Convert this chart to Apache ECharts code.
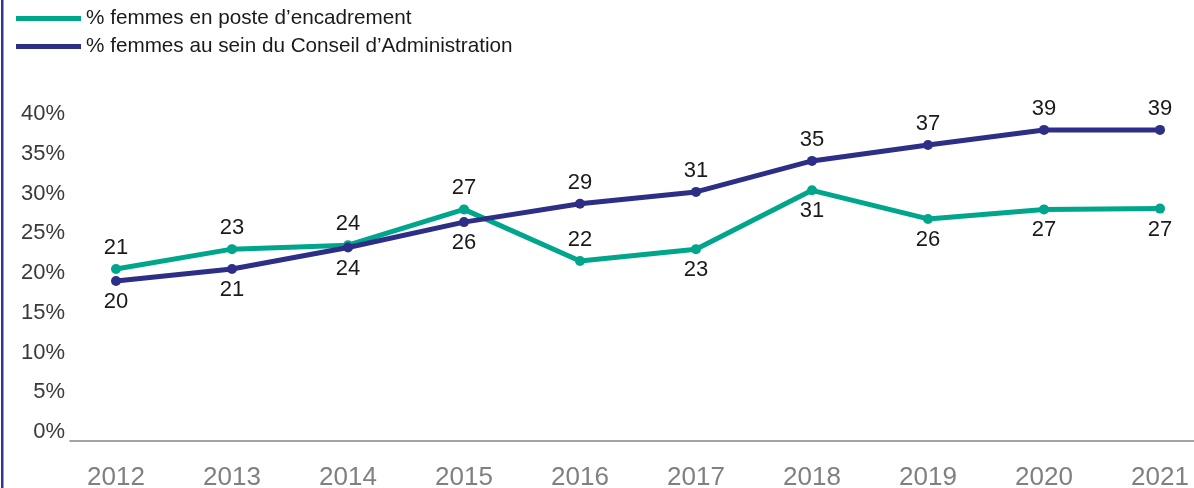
<!DOCTYPE html>
<html>
<head>
<meta charset="utf-8">
<script src="https://cdn.jsdelivr.net/npm/echarts@6/dist/echarts.min.js"></script>
<style>
  html, body { margin: 0; padding: 0; background: #ffffff; }
  #chart { width: 1194px; height: 488px; }
</style>
</head>
<body>
<div id="chart"></div>
<script>
// ---- data ----
const years = ['2012', '2013', '2014', '2015', '2016', '2017', '2018', '2019', '2020', '2021'];
const yTickLabels = ['0%', '5%', '10%', '15%', '20%', '25%', '30%', '35%', '40%'];

const managersName = '% femmes en poste d\u2019encadrement';
const managersPlotted = [20.5, 23.0, 23.5, 28.0, 21.5, 23.0, 30.4, 26.8, 28.0, 28.1];
const managersLabels = [21, 23, 24, 27, 22, 23, 31, 26, 27, 27];

const boardName = '% femmes au sein du Conseil d\u2019Administration';
const boardPlotted = [19.0, 20.5, 23.2, 26.4, 28.7, 30.2, 34.1, 36.1, 38.0, 38.0];
const boardLabels = [20, 21, 24, 26, 29, 31, 35, 37, 39, 39];

// ---- style config (label side per point) ----
const managersLabelSide = ['top', 'top', 'top', 'top', 'top', 'bottom', 'bottom', 'bottom', 'bottom', 'bottom'];
const boardLabelSide = ['bottom', 'bottom', 'bottom', 'bottom', 'top', 'top', 'top', 'top', 'top', 'top'];

const GREEN = '#00a68c';
const NAVY = '#2d2e86';
const FONT = "'Liberation Sans', Arial, Helvetica, sans-serif";

function buildData(values, labels, sides) {
  return values.map((v, i) => ({
    value: v,
    label: { position: sides[i], formatter: String(labels[i]) }
  }));
}

const chart = echarts.init(document.getElementById('chart'), null, { renderer: 'canvas' });

const option = {
  animation: false,
  backgroundColor: '#ffffff',
  textStyle: { fontFamily: FONT },
  graphic: [{
    type: 'rect',
    shape: { x: 1, y: 0, width: 2.5, height: 488 },
    style: { fill: '#2f3a8f' },
    silent: true
  }],
  legend: {
    orient: 'vertical',
    left: 16,
    top: 8,
    padding: 0,
    itemWidth: 65,
    itemHeight: 5,
    itemGap: 7,
    icon: 'rect',
    textStyle: { fontSize: 20.7, color: '#1a1a1a', fontFamily: FONT },
    data: [managersName, boardName]
  },
  grid: [
    { left: 116, right: 34, top: 114, bottom: 56, containLabel: false, outerBoundsMode: 'none' },
    { left: 70, right: 0, top: 114, bottom: 47, containLabel: false, outerBoundsMode: 'none' }
  ],
  xAxis: [
    {
      type: 'category',
      gridIndex: 0,
      data: years,
      boundaryGap: false,
      axisLine: { show: false },
      axisTick: { show: false },
      splitLine: { show: false },
      axisLabel: { fontSize: 26, color: '#808080', margin: 33, fontFamily: FONT }
    },
    {
      type: 'value',
      gridIndex: 1,
      min: 0, max: 1,
      axisLine: { show: true, onZero: false, lineStyle: { color: '#858585', width: 1.5 } },
      axisTick: { show: false },
      axisLabel: { show: false },
      splitLine: { show: false }
    }
  ],
  yAxis: [
    {
      type: 'value',
      gridIndex: 0,
      min: 0,
      max: 40,
      interval: 5,
      axisLine: { show: false },
      axisTick: { show: false },
      splitLine: { show: false },
      axisLabel: {
        fontSize: 22,
        color: '#3a3a3a',
        margin: 51,
        fontFamily: FONT,
        formatter: (v) => yTickLabels[Math.round(v / 5)]
      }
    },
    {
      type: 'value',
      gridIndex: 1,
      min: 0, max: 1,
      show: false
    }
  ],
  series: [
    {
      name: managersName,
      type: 'line',
      xAxisIndex: 0,
      yAxisIndex: 0,
      data: buildData(managersPlotted, managersLabels, managersLabelSide),
      symbol: 'circle',
      symbolSize: 10,
      color: GREEN,
      lineStyle: { color: GREEN, width: 5 },
      itemStyle: { color: GREEN },
      label: { show: true, fontSize: 22, color: '#1a1a1a', distance: 5, fontFamily: FONT },
      z: 2
    },
    {
      name: boardName,
      type: 'line',
      xAxisIndex: 0,
      yAxisIndex: 0,
      data: buildData(boardPlotted, boardLabels, boardLabelSide),
      symbol: 'circle',
      symbolSize: 10,
      color: NAVY,
      lineStyle: { color: NAVY, width: 5 },
      itemStyle: { color: NAVY },
      label: { show: true, fontSize: 22, color: '#1a1a1a', distance: 5, fontFamily: FONT },
      z: 3
    }
  ]
};

chart.setOption(option);
</script>
</body>
</html>
